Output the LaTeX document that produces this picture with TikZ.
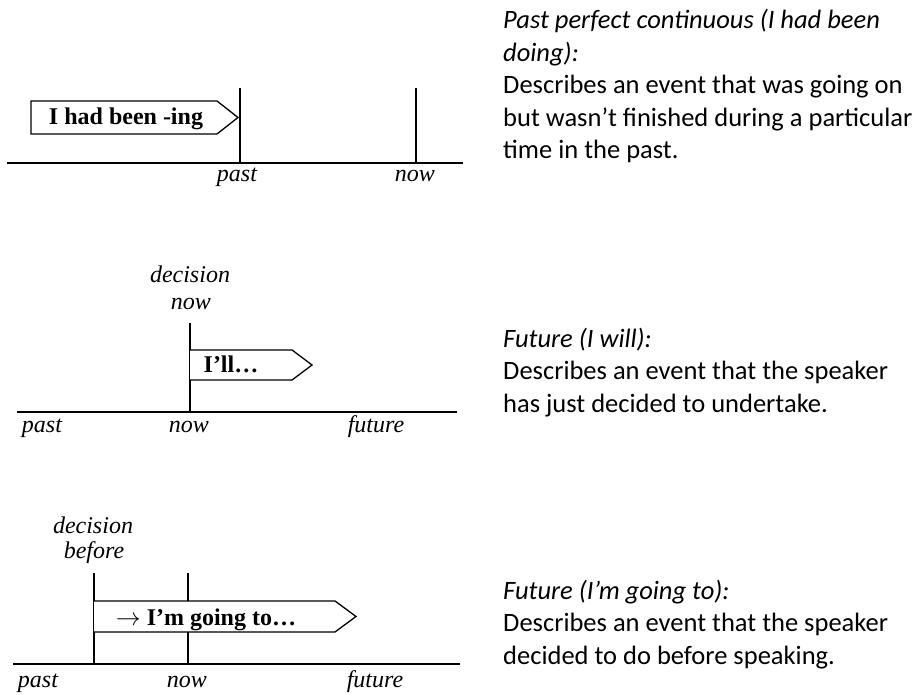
\documentclass[tikz,border=0pt]{standalone}
\usepackage{fontspec}
\setmainfont{Liberation Serif}
\newfontfamily\descfont{Carlito}
\begin{document}
\begin{tikzpicture}[x=1pt,y=-1pt]
  \tikzstyle{lbl} = [font=\fontsize{24}{26}\selectfont\itshape, inner sep=0pt, anchor=base]
  \tikzstyle{flagtxt} = [font=\fontsize{24}{26}\selectfont\bfseries, inner sep=0pt, anchor=base]
  \tikzstyle{tline} = [line width=1.3pt, black]
  \tikzstyle{flag} = [draw=black, line width=1.3pt, fill=white]
  \tikzstyle{desc} = [font=\descfont\fontsize{26.5}{32.5}\selectfont, inner sep=0pt, anchor=base west, align=left]
  \useasboundingbox (0,0) rectangle (922,695);
  % past perfect continuous
  \coordinate (axAl) at (7,163);
  \coordinate (axAr) at (463,163);
  \coordinate (pA) at (240,163);
  \coordinate (nA) at (416,163);
  \draw[tline] (axAl) -- (axAr);
  \draw[tline] (pA) -- ++(0,-75);
  \draw[tline] (nA) -- ++(0,-75);
  \draw[flag] (31,101) -- (217,101) -- (238,117.5) -- (217,134) -- (31,134) -- cycle;
  \node[flagtxt] (hadbeen) at (126,125) {I had been -ing};
  \node[lbl] (pastA) at (237,182) {past};
  \node[lbl] (nowA) at (415,182) {now};
  % future will
  \node[lbl] (decB) at (190,283) {decision};
  \node[lbl] (decnowB) at (191,310) {now};
  \coordinate (axBl) at (17,412);
  \coordinate (axBr) at (457,412);
  \coordinate (nB) at (190,412);
  \draw[tline] (axBl) -- (axBr);
  \draw[tline] (nB) -- ++(0,-89);
  \draw[flag] (190,350) -- (292,350) -- (312,365) -- (292,380) -- (190,380);
  \node[flagtxt] (ill) at (231,373) {I’ll…};
  \node[lbl] (pastB) at (42,432) {past};
  \node[lbl] (nowB) at (189,432) {now};
  \node[lbl] (futB) at (376,432) {future};
  % future going to
  \node[lbl] (decC) at (93,533) {decision};
  \node[lbl] (befC) at (94,558) {before};
  \coordinate (axCl) at (13,664);
  \coordinate (axCr) at (460,664);
  \coordinate (bC) at (94,664);
  \coordinate (nC) at (188,664);
  \draw[tline] (axCl) -- (axCr);
  \draw[tline] (bC) -- ++(0,-91);
  \draw[tline] (nC) -- ++(0,-91);
  \draw[flag] (94,601) -- (335,601) -- (356,616.5) -- (335,632) -- (94,632);
  \node[flagtxt] (goingto) at (206,625) {$\rightarrow$ I’m going to…};
  \node[lbl] (pastC) at (38,687) {past};
  \node[lbl] (nowC) at (187,687) {now};
  \node[lbl] (futC) at (375,687) {future};
  % descriptions (base = last line)
  \node[desc] (ppcTxt) at (503,159) {{\itshape Past perfect continuous (I had been}\\{\itshape doing):}\\Describes an event that was going on\\but wasn’t finished during a particular\\time in the past.};
  \node[desc] (willTxt) at (503,412) {{\itshape Future (I will):}\\Describes an event that the speaker\\has just decided to undertake.};
  \node[desc] (goingTxt) at (503,664) {{\itshape Future (I’m going to):}\\Describes an event that the speaker\\decided to do before speaking.};
\end{tikzpicture}
\end{document}
